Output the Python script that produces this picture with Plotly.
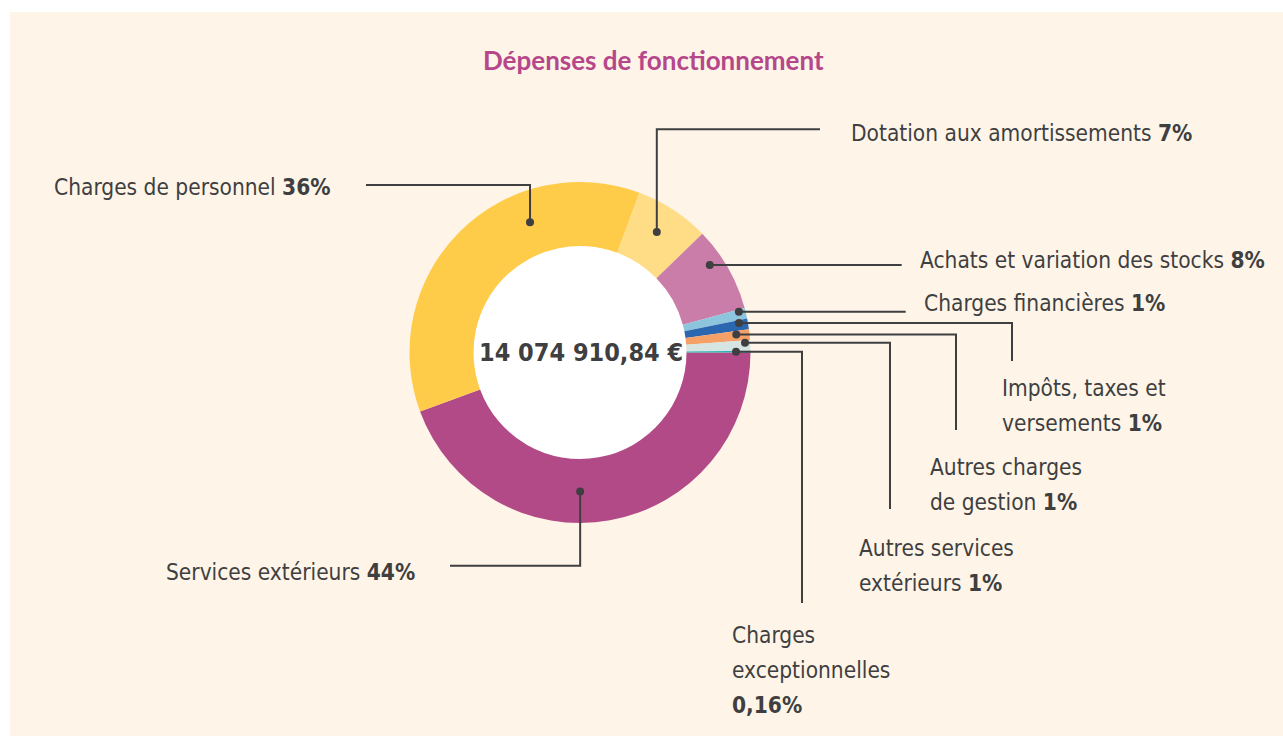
import math
import plotly.graph_objects as go

# ---- data -------------------------------------------------------------
categories = [
    "Services extérieurs",
    "Charges de personnel",
    "Dotation aux amortissements",
    "Achats et variation des stocks",
    "Charges financières",
    "Impôts, taxes et<br>versements",
    "Autres charges<br>de gestion",
    "Autres services<br>extérieurs",
    "Charges<br>exceptionnelles<br>",
]
values = [44, 36, 7, 8, 1, 1, 1, 1, 0.16]
pct_labels = ["44%", "36%", "7%", "8%", "1%", "1%", "1%", "1%", "0,16%"]
colors = ["#B34A88", "#FFCC4A", "#FFDD87", "#CA7DA8", "#8EC5DE",
          "#2B67B1", "#F5A066", "#D6E4E2", "#27B3B5"]
total_label = "14 074 910,84 €"
title_text = "Dépenses de fonctionnement"

# ---- layout constants (pixels, y grows downward) ---------------------
W, H = 1283, 736
CX, CY = 580.0, 352.5
R_OUT, R_IN = 170.5, 106.5
INK = "#3F3F41"
TEXT_FONT = "Liberation Sans Narrow, DejaVu Sans Condensed, Roboto, sans-serif"
TEXT_SIZE = 22.5

# where each leader dot sits inside its slice: (fraction of slice, radius)
dot_place = [(0.563, 139), (0.683, 139.5), (0.476, 142.8), (0.35, 156.5),
             (0.2, 164), (0.27, 161.7), (0.36, 157.3), (0.22, 165.3), (0.5, 156)]
# leader routes from the dot: ('h', x) horizontal run, ('v', y) vertical run
routes = [
    [("v", 565.7), ("h", 450)],
    [("v", 185), ("h", 366)],
    [("v", 129.3), ("h", 820)],
    [("h", 901.7)],
    [("h", 905.7)],
    [("h", 1012), ("v", 361)],
    [("h", 956), ("v", 430)],
    [("h", 890), ("v", 509)],
    [("h", 802), ("v", 603)],
]
# label anchor: (x, y of first line centre, xanchor)
label_pos = [
    (417, 572, "right"),
    (333, 187, "right"),
    (849, 133, "left"),
    (918, 260, "left"),
    (922, 303, "left"),
    (1000, 388, "left"),
    (928, 467, "left"),
    (857, 548, "left"),
    (730, 635, "left"),
]
LINE_H = 35

fig = go.Figure()

fig.add_trace(go.Pie(
    labels=[c.replace("<br>", " ").strip() for c in categories],
    values=values,
    sort=False,
    direction="clockwise",
    rotation=90,
    hole=R_IN / R_OUT,
    marker=dict(colors=colors, line=dict(width=0)),
    textinfo="none",
    hoverinfo="label+percent",
    showlegend=False,
    domain=dict(x=[(CX - R_OUT) / W, (CX + R_OUT) / W],
                y=[1 - (CY + R_OUT) / H, 1 - (CY - R_OUT) / H]),
))

shapes = [
    # cream panel
    dict(type="rect", xref="x", yref="y", x0=10, y0=12, x1=W, y1=H,
         fillcolor="#FEF5E8", line=dict(width=0), layer="below"),
    # white centre of the ring
    dict(type="circle", xref="x", yref="y", x0=CX - R_IN, y0=CY - R_IN,
         x1=CX + R_IN, y1=CY + R_IN, fillcolor="#FFFFFF",
         line=dict(width=0), layer="below"),
]
annotations = []

total = sum(values)
cum = 0.0
for i, v in enumerate(values):
    frac, r = dot_place[i]
    ang = math.radians((cum + frac * v) / total * 360.0)
    cum += v
    dx, dy = CX + r * math.cos(ang), CY + r * math.sin(ang)

    # leader line
    px, py = dx, dy
    path = f"M {px:.2f},{py:.2f}"
    for kind, val in routes[i]:
        if kind == "h":
            px = val
        else:
            py = val
        path += f" L {px:.2f},{py:.2f}"
    shapes.append(dict(type="path", xref="x", yref="y", path=path,
                       line=dict(color=INK, width=2), layer="above"))
    # dot
    shapes.append(dict(type="circle", xref="x", yref="y",
                       x0=dx - 4, y0=dy - 4, x1=dx + 4, y1=dy + 4,
                       fillcolor=INK, line=dict(width=0), layer="above"))

    # label text, one annotation per line for a fixed line pitch
    lx, ly, anchor = label_pos[i]
    lines = categories[i].split("<br>")
    if lines[-1] == "":
        lines[-1] = f"<b>{pct_labels[i]}</b>"
    else:
        lines[-1] = f"{lines[-1]} <b>{pct_labels[i]}</b>"
    for k, line in enumerate(lines):
        annotations.append(dict(
            x=lx, y=ly + k * LINE_H, xref="x", yref="y",
            text=line, showarrow=False, xanchor=anchor, yanchor="middle",
            font=dict(family=TEXT_FONT, size=TEXT_SIZE, color=INK),
        ))

# total in the centre
annotations.append(dict(
    x=CX + 1, y=CY, xref="x", yref="y", text=f"<b>{total_label}</b>",
    showarrow=False, xanchor="center", yanchor="middle",
    font=dict(family=TEXT_FONT, size=25, color=INK),
))
# title
annotations.append(dict(
    x=653, y=60, xref="x", yref="y", text=f"<b>{title_text}</b>",
    showarrow=False, xanchor="center", yanchor="middle",
    font=dict(family="Lato, Open Sans, sans-serif", size=26, color="#B5478A"),
))

fig.update_layout(
    width=W, height=H,
    margin=dict(l=0, r=0, t=0, b=0),
    paper_bgcolor="#FFFFFF",
    plot_bgcolor="rgba(0,0,0,0)",
    xaxis=dict(range=[0, W], visible=False, fixedrange=True, domain=[0, 1]),
    yaxis=dict(range=[H, 0], visible=False, fixedrange=True, domain=[0, 1]),
    shapes=shapes,
    annotations=annotations,
    showlegend=False,
)

fig.write_html("out.html")
